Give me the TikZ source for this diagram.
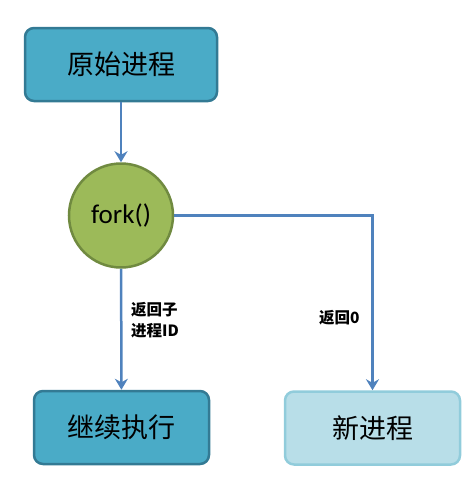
\documentclass[tikz,border=0pt]{standalone}
\usepackage{fontspec}
\setmainfont{Carlito}
\newfontfamily\cjk{Noto Sans CJK SC}
\usetikzlibrary{arrows.meta,calc}
\definecolor{BoxClr}{rgb}{0.29,0.67,0.78}
\definecolor{BoxLine}{rgb}{0.20,0.48,0.58}
\definecolor{NewClr}{rgb}{0.72,0.87,0.91}
\definecolor{NewLine}{rgb}{0.57,0.80,0.86}
\definecolor{ForkClr}{rgb}{0.61,0.73,0.35}
\definecolor{ForkLine}{rgb}{0.44,0.54,0.25}
\definecolor{ArrowClr}{rgb}{0.31,0.51,0.74}

\begin{document}
\begin{tikzpicture}[x=1pt,y=-1pt,
  proc/.style={draw=BoxLine,fill=BoxClr,line width=2.5pt,rounded corners=9pt,
    minimum width=192pt,minimum height=73pt,font=\cjk\fontsize{27}{30}\selectfont},
  newproc/.style={proc,draw=NewLine,fill=NewClr,minimum width=175pt},
  forkc/.style={circle,draw=ForkLine,fill=ForkClr,line width=2.5pt,minimum size=104pt,
    inner sep=0pt,font=\fontsize{27}{30}\selectfont},
  flow/.style={draw=ArrowClr,line width=2.5pt,-{Stealth[length=11pt,width=13pt]}},
  note/.style={font=\cjk\bfseries\fontsize{15.5}{21}\selectfont,align=left,inner sep=0pt}]
\useasboundingbox (0,0) rectangle (475,496);

% boxes
\node[proc] (orig) at (121,64.5) {原始进程};
\node[forkc] (fork) at (121,215.5) {fork()};
\node[proc,minimum width=175pt] (cont) at (121.5,427.5) {继续执行};
\node[newproc] (new) at (372.5,428) {新进程};

% arrows
\draw[flow] (orig) -- (fork);
\draw[flow] (fork) -- (cont);
\draw[flow] (fork.east) -| (new.north);

% labels
\node[note,anchor=north west] (lchild) at (131,302) {返回子\\进程ID};
\node[note,anchor=west] (lzero) at (319,318) {返回0};
\end{tikzpicture}
\end{document}
